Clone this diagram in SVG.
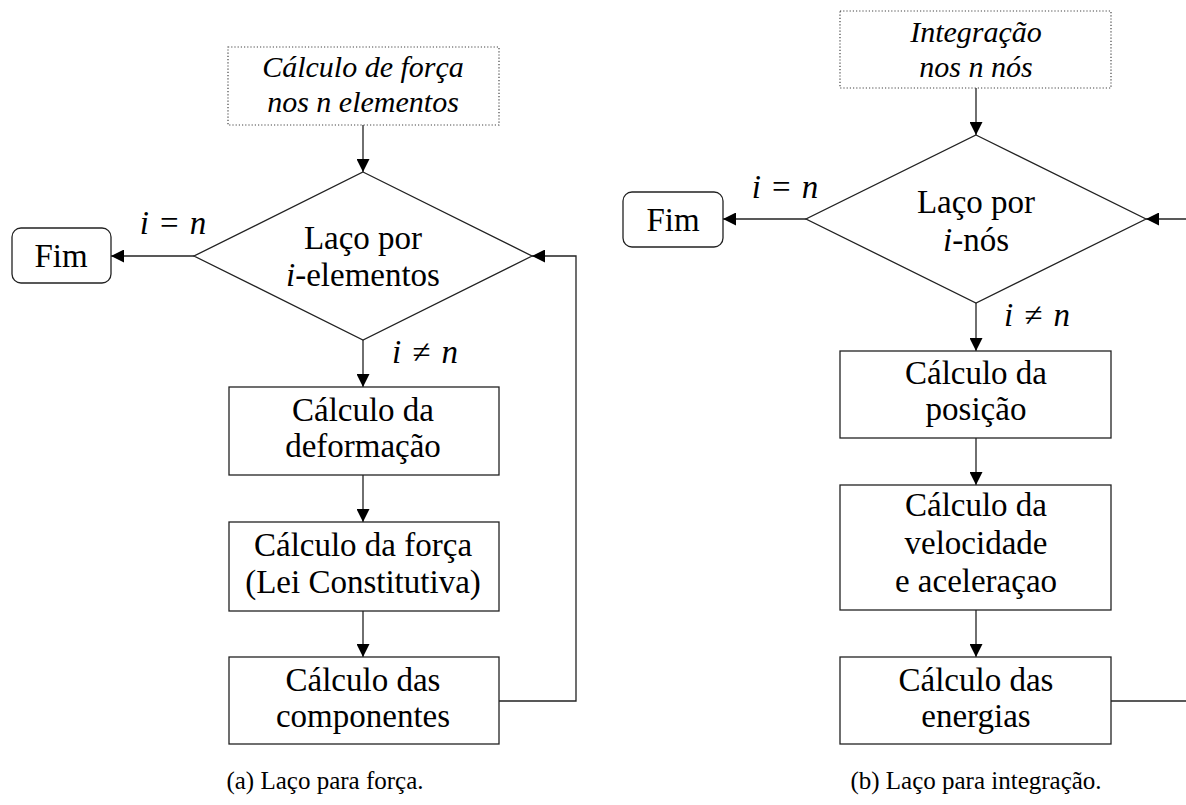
<svg xmlns="http://www.w3.org/2000/svg" width="1186" height="805" viewBox="0 0 1186 805">
<style>
text{font-family:'Liberation Serif',serif;fill:#000;text-anchor:middle}
.t{font-size:33px}
.it{font-size:30px;font-style:italic}
.cap{font-size:25px}
.m{font-style:italic}
.box{fill:#fff;stroke:#222;stroke-width:1.3}
.dot{fill:#fff;stroke:#444;stroke-width:1.2;stroke-dasharray:1.2 2}
.c{fill:none;stroke:#222;stroke-width:1.3}
</style>
<defs>
<marker id="ah" viewBox="0 0 13 13" refX="13" refY="6.5" markerWidth="13" markerHeight="13" markerUnits="userSpaceOnUse" orient="auto"><path d="M0,0 L13,6.5 L0,13 z" fill="#000"/></marker>
</defs>
<g id="connectors">
<path class="c" d="M363,125 V172" marker-end="url(#ah)"/>
<path class="c" d="M194,256 H111" marker-end="url(#ah)"/>
<path class="c" d="M363,340 V387" marker-end="url(#ah)"/>
<path class="c" d="M363,475 V522" marker-end="url(#ah)"/>
<path class="c" d="M363,611 V657" marker-end="url(#ah)"/>
<path class="c" d="M499,701 H576 V256 H532" marker-end="url(#ah)"/>
<path class="c" d="M976,88 V135" marker-end="url(#ah)"/>
<path class="c" d="M806,219 H723" marker-end="url(#ah)"/>
<path class="c" d="M976,303 V351" marker-end="url(#ah)"/>
<path class="c" d="M976,438 V485" marker-end="url(#ah)"/>
<path class="c" d="M976,610 V657" marker-end="url(#ah)"/>
<path class="c" d="M1111,701 H1192"/>
<path class="c" d="M1192,219 H1146" marker-end="url(#ah)"/>
</g>
<g id="labels">
<text class="t" x="173" y="234"><tspan class="m">i</tspan><tspan dx="11">=</tspan><tspan class="m" dx="11">n</tspan></text>
<text class="t" x="425" y="363"><tspan class="m">i</tspan><tspan dx="11">≠</tspan><tspan class="m" dx="11">n</tspan></text>
<text class="t" x="785" y="198"><tspan class="m">i</tspan><tspan dx="11">=</tspan><tspan class="m" dx="11">n</tspan></text>
<text class="t" x="1037" y="326"><tspan class="m">i</tspan><tspan dx="11">≠</tspan><tspan class="m" dx="11">n</tspan></text>
</g>
<g id="a-start">
<rect class="dot" x="228" y="47" width="271" height="78"/>
<text class="it" x="363" y="77">Cálculo de força</text>
<text class="it" x="363" y="112">nos n elementos</text>
</g>
<g id="a-loop">
<polygon class="box" points="363,172 532,256 363,340 194,256"/>
<text class="t" x="363" y="249">Laço por</text>
<text class="t" x="363" y="286"><tspan class="m">i</tspan>-elementos</text>
</g>
<g id="a-fim">
<rect class="box" x="12" y="228" width="99" height="55" rx="9"/>
<text class="t" x="61" y="267">Fim</text>
</g>
<g id="a-deform">
<rect class="box" x="229" y="387" width="270" height="88"/>
<text class="t" x="363" y="421">Cálculo da</text>
<text class="t" x="363" y="457">deformação</text>
</g>
<g id="a-forca">
<rect class="box" x="229" y="522" width="270" height="89"/>
<text class="t" x="363" y="556">Cálculo da força</text>
<text class="t" x="363" y="593">(Lei Constitutiva)</text>
</g>
<g id="a-comp">
<rect class="box" x="229" y="657" width="270" height="87"/>
<text class="t" x="363" y="691">Cálculo das</text>
<text class="t" x="363" y="727">componentes</text>
</g>
<g id="b-start">
<rect class="dot" x="840" y="11" width="271" height="77"/>
<text class="it" x="976" y="42">Integração</text>
<text class="it" x="976" y="77">nos n nós</text>
</g>
<g id="b-loop">
<polygon class="box" points="976,135 1146,219 976,303 806,219"/>
<text class="t" x="976" y="213">Laço por</text>
<text class="t" x="976" y="251"><tspan class="m">i</tspan>-nós</text>
</g>
<g id="b-fim">
<rect class="box" x="623" y="192" width="100" height="55" rx="9"/>
<text class="t" x="673" y="231">Fim</text>
</g>
<g id="b-pos">
<rect class="box" x="840" y="351" width="271" height="87"/>
<text class="t" x="976" y="384">Cálculo da</text>
<text class="t" x="976" y="420">posição</text>
</g>
<g id="b-vel">
<rect class="box" x="840" y="485" width="271" height="125"/>
<text class="t" x="976" y="516">Cálculo da</text>
<text class="t" x="976" y="554">velocidade</text>
<text class="t" x="976" y="592">e aceleraçao</text>
</g>
<g id="b-ener">
<rect class="box" x="840" y="657" width="271" height="87"/>
<text class="t" x="976" y="691">Cálculo das</text>
<text class="t" x="976" y="727">energias</text>
</g>
<g id="captions">
<text class="cap" x="325" y="789">(a) Laço para força.</text>
<text class="cap" x="976" y="789">(b) Laço para integração.</text>
</g>
</svg>
